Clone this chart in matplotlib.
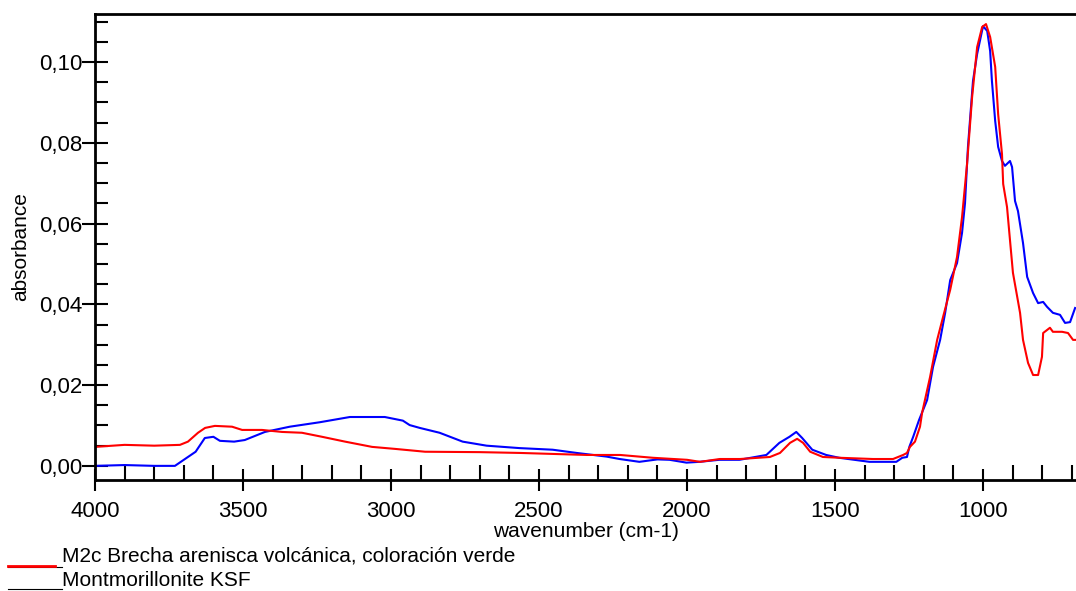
import matplotlib
matplotlib.use("Agg")
import matplotlib.pyplot as plt
from matplotlib.lines import Line2D
from matplotlib.ticker import MultipleLocator, FuncFormatter

plt.rcParams['font.family'] = ['Liberation Sans', 'DejaVu Sans']

# Montmorillonite KSF (azul)
wn_ksf = [4000, 3900, 3800, 3730, 3700, 3660, 3629, 3600, 3578, 3530, 3494, 3426,
          3342, 3241, 3139, 3021, 2960, 2937, 2903, 2836, 2758, 2677, 2566, 2454,
          2373, 2272, 2228, 2161, 2100, 2059, 2002, 1958, 1891, 1823, 1732, 1688,
          1654, 1631, 1611, 1577, 1530, 1486, 1384, 1293, 1273, 1257, 1249, 1236,
          1216, 1189, 1169, 1145, 1128, 1111, 1088, 1071, 1061, 1051, 1034, 1020,
          1000, 986, 976, 970, 959, 949, 936, 926, 909, 902, 892, 882, 865, 851,
          831, 814, 797, 784, 764, 740, 723, 706, 689]
abs_ksf = [0.0000, 0.0002, 0.0000, 0.0000, 0.0015, 0.0035, 0.0069, 0.0072, 0.0062,
           0.0060, 0.0064, 0.0084, 0.0097, 0.0108, 0.0121, 0.0121, 0.0112, 0.0101,
           0.0094, 0.0082, 0.0060, 0.0050, 0.0044, 0.0040, 0.0032, 0.0023, 0.0017,
           0.0010, 0.0016, 0.0015, 0.0008, 0.0010, 0.0015, 0.0015, 0.0027, 0.0057,
           0.0072, 0.0084, 0.0069, 0.0040, 0.0027, 0.0020, 0.0010, 0.0010, 0.0020,
           0.0022, 0.0047, 0.0072, 0.0114, 0.0163, 0.0245, 0.0312, 0.0379, 0.0460,
           0.0502, 0.0577, 0.0650, 0.0790, 0.0953, 0.1020, 0.1089, 0.1077, 0.1027,
           0.0953, 0.0854, 0.0790, 0.0755, 0.0743, 0.0755, 0.0740, 0.0656, 0.0631,
           0.0552, 0.0468, 0.0428, 0.0403, 0.0406, 0.0394, 0.0379, 0.0374, 0.0354,
           0.0356, 0.0391]

# M2c Brecha arenisca volcanica (rojo)
wn_m2c = [4000, 3900, 3800, 3713, 3686, 3652, 3628, 3595, 3537, 3503, 3436, 3368,
          3301, 3233, 3155, 3064, 2986, 2885, 2700, 2564, 2338, 2226, 2115, 2000,
          1956, 1889, 1821, 1720, 1686, 1652, 1628, 1608, 1584, 1541, 1483, 1372,
          1304, 1270, 1257, 1247, 1230, 1213, 1206, 1179, 1155, 1135, 1111, 1088,
          1071, 1054, 1037, 1020, 1003, 990, 976, 959, 949, 936, 932, 919, 909,
          899, 875, 865, 848, 831, 814, 801, 797, 774, 764, 733, 713, 696, 686]
abs_m2c = [0.0047, 0.0052, 0.0050, 0.0052, 0.0060, 0.0082, 0.0094, 0.0099, 0.0097,
           0.0089, 0.0089, 0.0084, 0.0082, 0.0072, 0.0060, 0.0047, 0.0042, 0.0035,
           0.0034, 0.0032, 0.0027, 0.0027, 0.0020, 0.0015, 0.0010, 0.0017, 0.0017,
           0.0022, 0.0032, 0.0057, 0.0067, 0.0057, 0.0035, 0.0022, 0.0020, 0.0017,
           0.0017, 0.0027, 0.0032, 0.0047, 0.0060, 0.0097, 0.0131, 0.0220, 0.0312,
           0.0369, 0.0436, 0.0517, 0.0616, 0.0748, 0.0913, 0.1037, 0.1087, 0.1094,
           0.1062, 0.0988, 0.0871, 0.0772, 0.0698, 0.0641, 0.0559, 0.0478, 0.0379,
           0.0312, 0.0255, 0.0225, 0.0225, 0.0270, 0.0329, 0.0342, 0.0332, 0.0332,
           0.0329, 0.0312, 0.0312]

legend_labels = ["M2c Brecha arenisca volcánica, coloración verde", "Montmorillonite KSF"]

fig = plt.figure(figsize=(10.76, 5.91), dpi=100)
ax = fig.add_axes([95 / 1076, 1 - 480 / 591, 1 - 95 / 1076, 466 / 591])

ax.plot(wn_ksf, abs_ksf, color='#0000ff', linewidth=1.5)
ax.plot(wn_m2c, abs_m2c, color='#ff0000', linewidth=1.5)

ax.set_xlim(4000, 686)
ax.set_ylim(-0.0035, 0.1119)

ax.spines['right'].set_visible(False)
for s in ['top', 'left', 'bottom']:
    ax.spines[s].set_linewidth(2)

ax.xaxis.set_major_locator(MultipleLocator(500))
ax.xaxis.set_minor_locator(MultipleLocator(100))
ax.yaxis.set_major_locator(MultipleLocator(0.02))
ax.yaxis.set_minor_locator(MultipleLocator(0.005))
ax.yaxis.set_major_formatter(FuncFormatter(lambda v, p: f"{v:.2f}".replace('.', ',')))

ax.tick_params(axis='y', which='major', direction='inout', length=18.7, width=1.5,
               labelsize=16, pad=0)
ax.tick_params(axis='y', which='minor', direction='in', length=9.4, width=1.5)
ax.tick_params(axis='x', which='major', direction='inout', length=16, width=1.5,
               labelsize=16, pad=7)
ax.tick_params(axis='x', which='minor', direction='in', length=10.5, width=1.5)

ax.set_xlabel('wavenumber (cm-1)', fontsize=15, labelpad=0)
ax.set_ylabel('absorbance', fontsize=15, labelpad=6)

# leyenda al pie, como en el original
fig.add_artist(Line2D([8 / 1076, 62 / 1076], [1 - 567 / 591] * 2, color='black', lw=0.8))
fig.add_artist(Line2D([8 / 1076, 55 / 1076], [1 - 566 / 591] * 2, color='#ff0000', lw=2))
fig.add_artist(Line2D([8 / 1076, 62 / 1076], [1 - 589 / 591] * 2, color='black', lw=0.8))
fig.text(62 / 1076, 1 - 556 / 591, legend_labels[0], fontsize=15, va='center')
fig.text(62 / 1076, 1 - 580 / 591, legend_labels[1], fontsize=15, va='center')

fig.savefig('out.png', dpi=100)
